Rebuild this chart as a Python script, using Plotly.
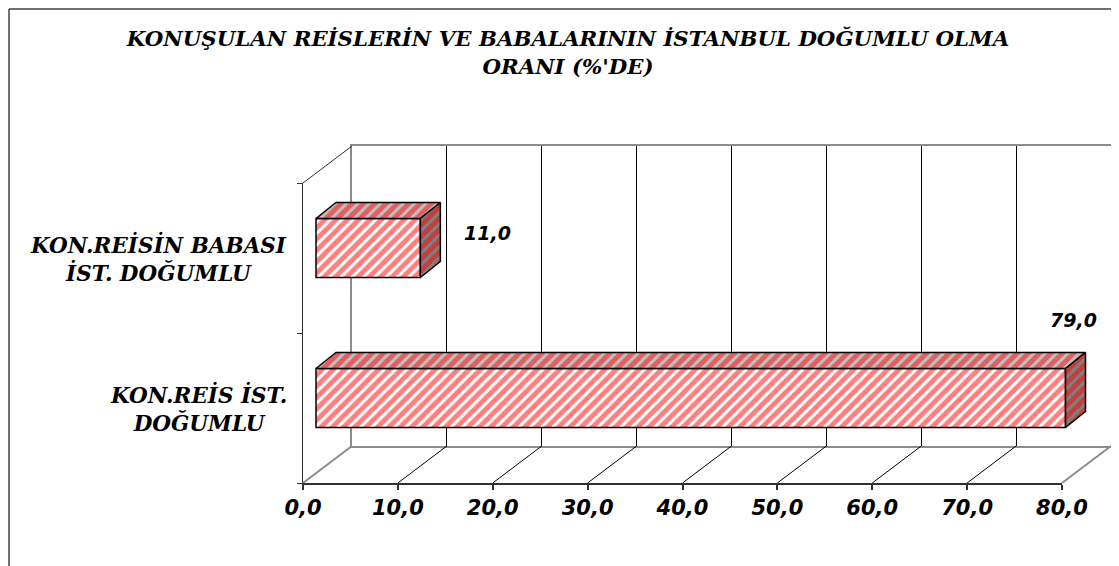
import plotly.graph_objects as go

# ---------------- data ----------------
categories = ["KON.REİS İST. DOĞUMLU", "KON.REİSİN BABASI İST. DOĞUMLU"]
category_labels = ["KON.REİS İST.<br>DOĞUMLU", "KON.REİSİN BABASI<br>İST. DOĞUMLU"]
values = [79.0, 11.0]
x_ticks = [0, 10, 20, 30, 40, 50, 60, 70, 80]
title_text = "KONUŞULAN REİSLERİN VE BABALARININ İSTANBUL DOĞUMLU OLMA<br>ORANI (%'DE)"

# ---------------- geometry / style ----------------
W, H = 1119, 566
PAGE_OFF = 8            # default body margin of the html page
S = 9.4875              # px per value unit on front plane
CAT_PX = 150            # px per category on front plane
X0_PX, Y0_PX = 303, 483 # front plane origin (value 0, bottom edge)
DEPTH_PX = (49, 37)     # wall depth
BAR_OFF_PX = (13, 10)   # bar front face offset into depth
BAR_DEPTH_PX = (20, 16) # bar thickness in depth
BAR_HALF = 0.1967

def fx(p):
    return (p - PAGE_OFF) / W

def fy(p):
    return 1 - (p - PAGE_OFF) / H

Dx, Dy = DEPTH_PX[0] / S, DEPTH_PX[1] / CAT_PX
bx, by = BAR_OFF_PX[0] / S, BAR_OFF_PX[1] / CAT_PX
ddx, ddy = BAR_DEPTH_PX[0] / S, BAR_DEPTH_PX[1] / CAT_PX

SERIF = "DejaVu Serif"
SANS = "DejaVu Sans"
RED = "#ff0000"
PAT = dict(shape="/", fgcolor=RED, size=8, solidity=0.62)

fig = go.Figure()

# ---- back wall subplot (xy): gridlines + gray frame ----
fig.add_trace(go.Scatter(x=[0], y=[0], mode="markers", marker=dict(opacity=0),
                         hoverinfo="skip", showlegend=False, xaxis="x", yaxis="y"))

# ---- scene subplot (x2y2): floor / side lines, bars ----
ncat = len(categories)
yb_bottom = -0.5
yb_top = ncat - 0.5

# floor grid diagonals (black)
fx_, fy_ = [], []
for v in x_ticks[1:-1]:
    fx_ += [v, v + Dx, None]
    fy_ += [yb_bottom, yb_bottom + Dy, None]
fig.add_trace(go.Scatter(x=fx_, y=fy_, mode="lines", line=dict(color="#000000", width=1),
                         hoverinfo="skip", showlegend=False, xaxis="x2", yaxis="y2"))
# gray wall edges on floor
gx_ = [x_ticks[0], x_ticks[0] + Dx, None, x_ticks[-1], x_ticks[-1] + Dx]
gy_ = [yb_bottom, yb_bottom + Dy, None, yb_bottom, yb_bottom + Dy]
fig.add_trace(go.Scatter(x=gx_, y=gy_, mode="lines", line=dict(color="#8c8c8c", width=2),
                         hoverinfo="skip", showlegend=False, xaxis="x2", yaxis="y2"))
# side wall top diagonal
fig.add_trace(go.Scatter(x=[x_ticks[0], x_ticks[0] + Dx], y=[yb_top, yb_top + Dy], mode="lines",
                         line=dict(color="#303030", width=1),
                         hoverinfo="skip", showlegend=False, xaxis="x2", yaxis="y2"))

# bar front faces
ypos = list(range(ncat))
fig.add_trace(go.Bar(
    y=ypos, x=values, base=bx, orientation="h", width=2 * BAR_HALF, offset=-BAR_HALF + by,
    marker=dict(color="white", line=dict(color="#000000", width=1.5),
                pattern=dict(PAT, bgcolor="white")),
    hovertext=categories, hoverinfo="text+x", showlegend=False, xaxis="x2", yaxis="y2"))

# top faces and side faces
tx, ty, sx, sy = [], [], [], []
for i, v in enumerate(values):
    b, e = bx, bx + v
    t = i + by + BAR_HALF
    u = i + by - BAR_HALF
    tx += [b, e, e + ddx, b + ddx, b, None]
    ty += [t, t, t + ddy, t + ddy, t, None]
    sx += [e, e, e + ddx, e + ddx, e, None]
    sy += [u, t, t + ddy, u + ddy, u, None]
fig.add_trace(go.Scatter(x=tx, y=ty, mode="lines", fill="toself", fillcolor="#c0c0c0",
                         fillpattern=dict(PAT, bgcolor="#c0c0c0"),
                         line=dict(color="#000000", width=1.5),
                         hoverinfo="skip", showlegend=False, xaxis="x2", yaxis="y2"))
fig.add_trace(go.Scatter(x=sx, y=sy, mode="lines", fill="toself", fillcolor="#808080",
                         fillpattern=dict(PAT, bgcolor="#808080"),
                         line=dict(color="#000000", width=1.5),
                         hoverinfo="skip", showlegend=False, xaxis="x2", yaxis="y2"))

# ---- front axes subplot (x3y3) ----
fig.add_trace(go.Scatter(x=[0], y=[0], mode="markers", marker=dict(opacity=0),
                         hoverinfo="skip", showlegend=False, xaxis="x3", yaxis="y3"))

# data labels
label_shift = [(7.5, 78.5), (67.6, 15.5)]
annotations = []
for i, v in enumerate(values):
    annotations.append(dict(
        x=bx + v, y=i + by, xref="x2", yref="y2",
        text=f"{v:.1f}".replace(".", ","), showarrow=False,
        xshift=label_shift[i][0], yshift=label_shift[i][1],
        font=dict(family=SANS, size=19, color="#000000", weight="bold", style="italic")))
# category labels
for i, lab in enumerate(category_labels):
    annotations.append(dict(
        x=fx(289), y=i, xref="paper", yref="y2", xanchor="right", yanchor="middle",
        align="center", text=lab, showarrow=False,
        font=dict(family=SERIF, size=21.5, color="#000000", weight="bold", style="italic")))

# outer chart border (left and top visible)
shapes = [
    dict(type="line", xref="paper", yref="paper", x0=fx(9), y0=fy(9), x1=fx(9), y1=0,
         line=dict(color="#404040", width=1.5)),
    dict(type="line", xref="paper", yref="paper", x0=fx(9), y0=fy(9), x1=1, y1=fy(9),
         line=dict(color="#404040", width=1.5)),
]

scene_x0, scene_x1 = 290, 1119
scene_y0, scene_y1 = 130, 500

fig.update_layout(
    width=W, height=H,
    margin=dict(l=0, r=0, t=0, b=0),
    paper_bgcolor="white", plot_bgcolor="rgba(0,0,0,0)",
    separators=",.",
    showlegend=False,
    title=dict(text=title_text, x=fx(568), xanchor="center", y=fy(46), yanchor="top",
               yref="paper", xref="paper",
               font=dict(family=SERIF, size=21.3, color="#000000", weight="bold", style="italic")),
    xaxis=dict(domain=[fx(X0_PX + DEPTH_PX[0]), fx(X0_PX + DEPTH_PX[0] + 80 * S)], range=[0, 80],
               showgrid=True, gridcolor="#000000", gridwidth=1, tickvals=x_ticks,
               showticklabels=False, ticks="", zeroline=False,
               showline=True, linecolor="#8c8c8c", linewidth=2, mirror=True, automargin=False,
               fixedrange=True),
    yaxis=dict(domain=[fy(Y0_PX - DEPTH_PX[1]), fy(Y0_PX - DEPTH_PX[1] - ncat * CAT_PX)], range=[0, 1],
               showgrid=False, showticklabels=False, ticks="", zeroline=False,
               showline=True, linecolor="#8c8c8c", linewidth=2, mirror=True, automargin=False,
               fixedrange=True),
    xaxis2=dict(domain=[fx(scene_x0), fx(scene_x1)],
                range=[(scene_x0 - X0_PX) / S, (scene_x1 - X0_PX) / S],
                visible=False, automargin=False, fixedrange=True),
    yaxis2=dict(domain=[fy(scene_y1), fy(scene_y0)],
                range=[(Y0_PX - scene_y1) / CAT_PX - 0.5, (Y0_PX - scene_y0) / CAT_PX - 0.5],
                visible=False, automargin=False, fixedrange=True),
    xaxis3=dict(domain=[fx(X0_PX), fx(X0_PX + 80 * S)], range=[0, 80], tickvals=x_ticks,
                tickformat=".1f", ticks="outside", ticklen=5, tickcolor="#303030", tickwidth=1.5,
                showline=True, linecolor="#303030", linewidth=1.5, showgrid=False, zeroline=False,
                tickfont=dict(family=SANS, size=21, color="#000000", weight="bold", style="italic"),
                automargin=False, fixedrange=True, anchor="y3"),
    yaxis3=dict(domain=[fy(Y0_PX), fy(Y0_PX - ncat * CAT_PX)], range=[-0.5, ncat - 0.5],
                tickvals=[k - 0.5 for k in range(ncat + 1)], ticks="outside", ticklen=5,
                tickcolor="#303030", showticklabels=False, showline=True, linecolor="#303030",
                linewidth=1, showgrid=False, zeroline=False, automargin=False, fixedrange=True,
                anchor="x3"),
    annotations=annotations,
    shapes=shapes,
)

fig.write_html("out.html")
